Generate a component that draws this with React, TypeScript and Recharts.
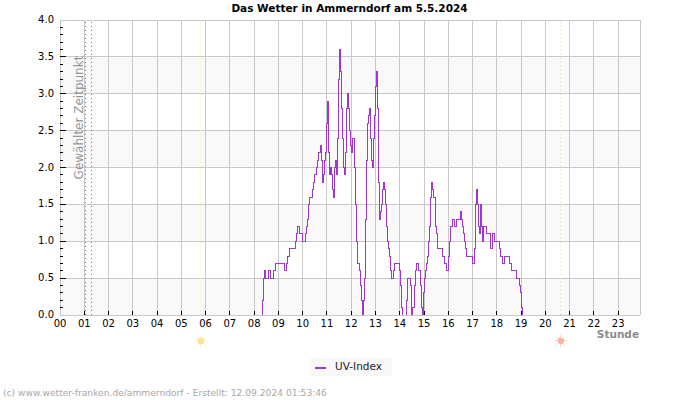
import React from 'react';
import {
  CartesianGrid,
  Legend,
  Line,
  LineChart,
  ReferenceDot,
  ReferenceLine,
  XAxis,
  YAxis,
} from 'recharts';

const FONT = '"DejaVu Sans", sans-serif';
const UV_COLOR = '#a035d0';
const GRID_COLOR = '#c8c8c8';

const hourTicks = [0, 1, 2, 3, 4, 5, 6, 7, 8, 9, 10, 11, 12, 13, 14, 15, 16, 17, 18, 19, 20, 21, 22, 23];
const hourLabels = ['00', '01', '02', '03', '04', '05', '06', '07', '08', '09', '10', '11', '12', '13', '14', '15', '16', '17', '18', '19', '20', '21', '22', '23'];
const uvTicks = [0, 0.1, 0.2, 0.3, 0.4, 0.5, 0.6, 0.7, 0.8, 0.9, 1, 1.1, 1.2, 1.3, 1.4, 1.5, 1.6, 1.7, 1.8, 1.9, 2, 2.1, 2.2, 2.3, 2.4, 2.5, 2.6, 2.7, 2.8, 2.9, 3, 3.1, 3.2, 3.3, 3.4, 3.5, 3.6, 3.7, 3.8, 3.9, 4];
const uvGridLines = [0, 0.5, 1, 1.5, 2, 2.5, 3, 3.5, 4];

// x axis ends a little before midnight, the last data column of the day
const X_END = 23.9;
const selectedTimes = [1.05, 1.31];
const sunrise = 5.8;
const sunset = 20.63;

// one sample per pixel column, starting at 08:00; each row is half an hour
const SAMPLE_HOURS = 0.04143;
const uvValues = [
  0, 0, 0, 0, 0, 0, 0, 0, 0.2, 0.5, 0.6, 0.5,
  0.5, 0.5, 0.6, 0.6, 0.5, 0.5, 0.5, 0.6, 0.6, 0.7, 0.7, 0.7,
  0.7, 0.7, 0.7, 0.7, 0.7, 0.7, 0.6, 0.6, 0.7, 0.8, 0.8, 0.9,
  0.9, 0.9, 0.9, 0.9, 0.9, 1.0, 1.1, 1.2, 1.2, 1.1, 1.1, 1.1,
  1.0, 1.0, 1.0, 1.1, 1.2, 1.3, 1.5, 1.6, 1.6, 1.6, 1.7, 1.8,
  1.9, 1.9, 2.0, 2.1, 2.2, 2.2, 2.3, 2.1, 1.8, 1.9, 2.1, 2.2,
  2.6, 2.9, 2.2, 1.9, 2.0, 1.9, 1.7, 1.6, 2.0, 2.1, 1.9, 2.4,
  3.2, 3.6, 3.3, 2.8, 2.4, 2.0, 1.9, 2.2, 2.8, 3.0, 2.8, 2.5,
  2.3, 2.2, 2.4, 2.4, 2.0, 1.5, 1.0, 0.7, 0.7, 0.6, 0.4, 0.2,
  0, 0.2, 0.5, 1.3, 2.1, 2.6, 2.7, 2.8, 2.4, 2.1, 2.0, 2.4,
  2.7, 3.1, 3.3, 2.8, 1.8, 1.3, 1.4, 1.5, 1.7, 1.8, 1.7, 1.5,
  1.2, 1.0, 0.9, 0.8, 0.6, 0.5, 0.5, 0.6, 0.7, 0.7, 0.7, 0.7,
  0.7, 0.6, 0.4, 0.1, 0, 0, 0, 0, 0.2, 0.5, 0.5, 0.5,
  0.4, 0, 0.1, 0.4, 0.6, 0.7, 0.7, 0.6, 0.6, 0.4, 0.1, 0,
  0.3, 0.5, 0.6, 0.7, 0.8, 1.0, 1.2, 1.6, 1.8, 1.7, 1.6, 1.6,
  1.2, 1.1, 0.9, 0.9, 0.9, 0.9, 0.9, 0.8, 0.8, 0.7, 0.7, 0.6,
  0.6, 0.8, 1.0, 1.2, 1.2, 1.3, 1.3, 1.2, 1.2, 1.3, 1.3, 1.3,
  1.3, 1.4, 1.3, 1.2, 1.1, 1.0, 0.9, 0.8, 0.8, 0.8, 0.8, 0.8,
  0.8, 0.7, 0.7, 0.9, 1.5, 1.7, 1.5, 1.2, 1.1, 1.5, 1.2, 1.0,
  1.2, 1.2, 1.2, 1.1, 1.1, 1.1, 1.1, 0.9, 0.9, 1.1, 1.1, 1.0,
  1.0, 1.0, 1.0, 1.0, 0.9, 0.8, 0.8, 0.7, 0.7, 0.8, 0.8, 0.8,
  0.8, 0.8, 0.7, 0.7, 0.6, 0.6, 0.6, 0.6, 0.6, 0.5, 0.5, 0.5,
  0.4, 0.3, 0.1, 0,
];

const chartData = uvValues.map((uv, i) => ({ hour: 8 + i * SAMPLE_HOURS, uv }));

const HourTick = ({ x, y, payload }: any) => (
  <g>
    {payload.value > 0 && <line x1={x} x2={x} y1={y - 4} y2={y} stroke="#000" />}
    <text x={x} y={y + 12} textAnchor="middle" fontSize={10} fontFamily={FONT} fill="#000">
      {hourLabels[payload.value]}
    </text>
  </g>
);

const UvTick = ({ x, y, payload }: any) => {
  const tenths = Math.round(payload.value * 10);
  const major = tenths % 5 === 0;
  const edge = tenths === 0 || tenths === 40;
  return (
    <g>
      {!edge && <line x1={x} x2={x + (major ? 6 : 3)} y1={y} y2={y} stroke="#000" />}
      {major && (
        <text x={x - 6} y={y + 3} textAnchor="end" fontSize={10} fontFamily={FONT} fill="#000">
          {payload.value.toFixed(1)}
        </text>
      )}
    </g>
  );
};

const Sun = ({ cx, cy, color }: any) => {
  const rays = [0, 45, 90, 135, 180, 225, 270, 315];
  return (
    <g>
      {rays.map((deg) => (
        <line
          key={deg}
          x1={cx}
          y1={cy - 3}
          x2={cx}
          y2={cy - 6}
          stroke={color}
          strokeOpacity={0.6}
          transform={`rotate(${deg} ${cx} ${cy})`}
        />
      ))}
      <circle cx={cx} cy={cy} r={3.2} fill={color} />
    </g>
  );
};

const SelectedLabel = ({ viewBox }: any) => (
  <text
    transform={`translate(${viewBox.x - 2} 117.5) rotate(-90)`}
    textAnchor="middle"
    fontSize={12}
    fontFamily={FONT}
    fill="#969696"
  >
    Gewählter Zeitpunkt
  </text>
);

const UvLegend = () => (
  <div
    style={{
      width: 82,
      height: 18,
      background: '#f8f8f8',
      position: 'relative',
      fontFamily: FONT,
      fontSize: 10.5,
      color: '#222',
    }}
  >
    <div style={{ position: 'absolute', left: 5, top: 9, width: 11, height: 2, background: UV_COLOR }} />
    <div style={{ position: 'absolute', left: 25, top: 2, lineHeight: '13px' }}>UV-Index</div>
  </div>
);

export default function App() {
  return (
    <div style={{ position: 'absolute', left: 0, top: 0, width: 700, height: 400, shapeRendering: 'crispEdges' }}>
      <LineChart width={700} height={400} data={chartData} margin={{ top: 20, right: 60, bottom: 0, left: 0 }}>
        <CartesianGrid
          stroke={GRID_COLOR}
          horizontalValues={uvGridLines}
          verticalValues={[...hourTicks, X_END]}
          horizontalFill={['#ffffff', '#f9f9f9']}
        />
        <XAxis
          dataKey="hour"
          type="number"
          domain={[0, X_END]}
          ticks={hourTicks}
          interval={0}
          height={85}
          tickSize={0}
          tickMargin={0}
          tickLine={false}
          axisLine={{ stroke: GRID_COLOR }}
          tick={<HourTick />}
        />
        <YAxis
          type="number"
          domain={[0, 4]}
          ticks={uvTicks}
          interval={0}
          width={60}
          tickSize={0}
          tickMargin={0}
          tickLine={false}
          axisLine={{ stroke: GRID_COLOR }}
          tick={<UvTick />}
        />
        <ReferenceLine x={selectedTimes[0]} stroke="#777" strokeDasharray="1 3" label={<SelectedLabel />} />
        <ReferenceLine x={selectedTimes[1]} stroke="#777" strokeDasharray="1 3" />
        <ReferenceLine x={sunrise} stroke="#f5f0a8" strokeDasharray="1 3" />
        <ReferenceLine x={sunset} stroke="#f8d0a0" strokeDasharray="1 3" />
        <ReferenceDot
          x={sunrise}
          y={-0.35}
          ifOverflow="visible"
          shape={(props: any) => <Sun {...props} color="#fbe39a" />}
        />
        <ReferenceDot
          x={sunset}
          y={-0.35}
          ifOverflow="visible"
          shape={(props: any) => <Sun {...props} color="#fbb5a0" />}
        />
        <Line
          type="stepAfter"
          dataKey="uv"
          name="UV-Index"
          stroke={UV_COLOR}
          strokeWidth={1}
          dot={false}
          isAnimationActive={false}
        />
        <Legend
          layout="horizontal"
          align="center"
          verticalAlign="middle"
          content={<UvLegend />}
          wrapperStyle={{ left: 310, top: 358, width: 82, height: 18 }}
        />
        <text x={349.5} y={12} textAnchor="middle" fontSize={10.5} fontWeight="bold" fontFamily={FONT} fill="#000">
          Das Wetter in Ammerndorf am 5.5.2024
        </text>
        <text x={639} y={338} textAnchor="end" fontSize={10.5} fontWeight="bold" fontFamily={FONT} fill="#8c8c8c">
          Stunde
        </text>
        <text x={3} y={396} fontSize={9.15} fontFamily={FONT} fill="#a8a8a8">
          (c) www.wetter-franken.de/ammerndorf - Erstellt: 12.09.2024 01:53:46
        </text>
      </LineChart>
    </div>
  );
}
